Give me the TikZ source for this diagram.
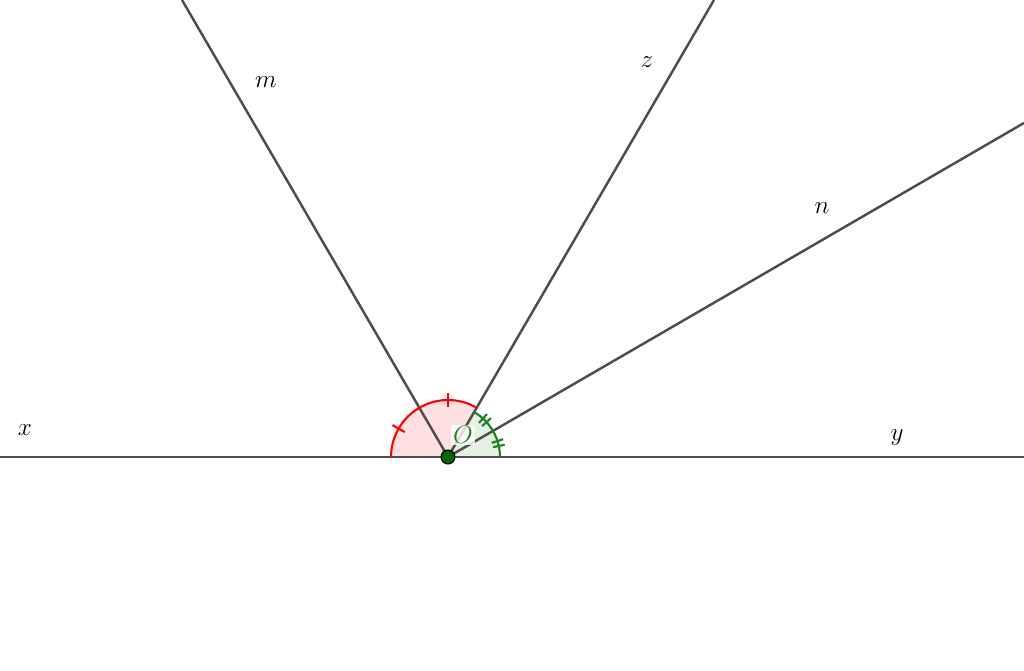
\documentclass[tikz,border=0pt]{standalone}
\usetikzlibrary{calc}
\definecolor{lin}{RGB}{77,77,77}
\definecolor{agreen}{RGB}{30,130,30}
\definecolor{pgreen}{RGB}{0,100,0}
\tikzset{
  ray/.style={draw=lin,line width=1.4pt},
  redsec/.style={fill=red,fill opacity=0.12,draw=none},
  grnsec/.style={fill=agreen,fill opacity=0.12,draw=none},
  redarc/.style={draw=red,line width=1.2pt},
  grnarc/.style={draw=agreen,line width=1.2pt},
  lbl/.style={font=\fontsize{14}{14}\selectfont,inner sep=0pt},
}
\begin{document}
\begin{tikzpicture}[x=0.02cm,y=0.02cm]
\useasboundingbox (0,0) rectangle (1024,671);
\clip (0,0) rectangle (1024,671);
\coordinate (O) at (448,214);
\coordinate (X) at (0,214);
\coordinate (Y) at (1024,214);
\coordinate (M) at (182,671);
\coordinate (Z) at (714,671);
\coordinate (N) at (1024,548);
% sectors
\fill[redsec] (O) -- ($(O)+(180:1.14cm)$) arc[start angle=180,end angle=59.8,radius=1.14cm] -- cycle;
\fill[grnsec] (O) -- ($(O)+(0:1.04cm)$) arc[start angle=0,end angle=59.8,radius=1.04cm] -- cycle;
% rays
\draw[ray] (X) -- (Y);
\draw[ray] (O) -- (M);
\draw[ray] (O) -- (Z);
\draw[ray] (O) -- (N);
% arcs
\draw[redarc] ($(O)+(180:1.14cm)$) arc[start angle=180,end angle=59.8,radius=1.14cm];
\draw[grnarc] ($(O)+(0:1.04cm)$) arc[start angle=0,end angle=59.8,radius=1.04cm];
% ticks
\foreach \a in {150.1,90} {
  \draw[redarc] ($(O)+(\a:1.0cm)$) -- ($(O)+(\a:1.28cm)$);
}
\foreach \a in {44.95,15.05} {
  \draw[grnarc] ($(O)+(\a-2.8:0.92cm)$) -- ($(O)+(\a-2.8:1.16cm)$);
  \draw[grnarc] ($(O)+(\a+2.8:0.92cm)$) -- ($(O)+(\a+2.8:1.16cm)$);
}
% point
\fill[pgreen,draw=black,line width=0.6pt] (O) circle[radius=0.14cm];
% labels
\node[lbl] (lx) at (25,241) {$x$};
\node[lbl] (ly) at (897,233) {$y$};
\node[lbl] (lm) at (266,589) {$m$};
\node[lbl] (lz) at (647,609) {$z$};
\node[lbl] (ln) at (822,463) {$n$};
\node[lbl,text=agreen,fill=white,fill opacity=0.8,text opacity=1,inner sep=1pt] (lO) at (463,236) {$O$};
\end{tikzpicture}
\end{document}
